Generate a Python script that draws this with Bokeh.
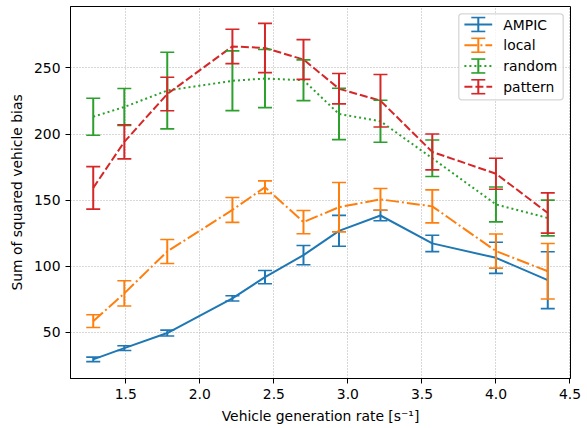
from bokeh.plotting import figure
from bokeh.models import ColumnDataSource, Whisker, TeeHead, Range1d, FixedTicker, BoxAnnotation
from bokeh.core.properties import value
from bokeh.embed import file_html
from bokeh.resources import INLINE

# ---------------- data ----------------
rate = [1.28, 1.49, 1.78, 2.22, 2.44, 2.70, 2.94, 3.22, 3.57, 4.00, 4.35]

ampic = [29.6, 38.1, 49.5, 75.7, 91.8, 108.4, 126.8, 138.4, 117.3, 106.4, 89.5]
ampic_err = [1.7, 1.8, 2.2, 2.0, 5.0, 7.3, 11.7, 4.0, 6.2, 11.8, 21.5]

local = [58.5, 79.5, 111.2, 142.6, 159.8, 133.4, 144.7, 150.6, 145.3, 111.5, 96.2]
local_err = [4.8, 9.6, 9.1, 9.4, 4.8, 8.8, 18.7, 8.2, 12.5, 12.9, 21.0]

random_ = [213.1, 220.5, 232.9, 240.3, 242.0, 240.7, 215.2, 209.7, 181.7, 146.8, 136.5]
random_err = [14.0, 14.0, 29.0, 22.6, 22.0, 15.4, 19.4, 15.9, 13.8, 13.2, 13.5]

pattern = [159.3, 194.1, 230.3, 266.3, 265.1, 256.4, 234.3, 225.2, 186.5, 170.0, 140.3]
pattern_err = [16.1, 12.9, 12.7, 13.0, 18.6, 15.0, 11.5, 19.8, 13.6, 11.7, 15.2]

series_names = ["AMPIC", "local", "random", "pattern"]
x_ticks = [1.5, 2.0, 2.5, 3.0, 3.5, 4.0, 4.5]
x_tick_labels = ["1.5", "2.0", "2.5", "3.0", "3.5", "4.0", "4.5"]
y_ticks = [50, 100, 150, 200, 250]
y_tick_labels = ["50", "100", "150", "200", "250"]

# ---------------- styles ----------------
colors = ["#1f77b4", "#ff7f0e", "#2ca02c", "#d62728"]
dashes = ["solid", "13 3 2 3", "2 3", "8 3"]
FONT = "DejaVu Sans"
FS = "13.9px"

series = [(ampic, ampic_err), (local, local_err), (random_, random_err), (pattern, pattern_err)]

# autoscale like matplotlib (5% margins)
xmin, xmax = min(rate), max(rate)
lo = min(v - e for vals, errs in series for v, e in zip(vals, errs))
hi = max(v + e for vals, errs in series for v, e in zip(vals, errs))
xpad = 0.05 * (xmax - xmin)
ypad = 0.05 * (hi - lo)

FW, FH = 500, 372

p = figure(frame_width=FW, frame_height=FH,
           min_border_left=70, min_border_right=17, min_border_top=6, min_border_bottom=5,
           x_range=Range1d(xmin - xpad, xmax + xpad),
           y_range=Range1d(lo - ypad, hi + ypad),
           output_backend="svg", toolbar_location=None)

p.background_fill_color = "white"
p.border_fill_color = "white"
p.outline_line_color = "black"
p.outline_line_width = 1
p.outline_line_alpha = 1

p.xaxis.ticker = FixedTicker(ticks=x_ticks)
p.yaxis.ticker = FixedTicker(ticks=y_ticks)
p.xaxis.major_label_overrides = {t: s for t, s in zip(x_ticks, x_tick_labels)}
p.yaxis.major_label_overrides = {t: s for t, s in zip(y_ticks, y_tick_labels)}
for ax in (p.xaxis, p.yaxis):
    ax.axis_line_color = "black"
    ax.axis_line_width = 1
    ax.major_tick_line_color = "black"
    ax.major_tick_line_width = 1
    ax.major_tick_out = 5
    ax.major_tick_in = 0
    ax.minor_tick_line_color = None
    ax.major_label_text_font = FONT
    ax.major_label_text_font_size = FS
    ax.major_label_text_color = "black"
    ax.major_label_standoff = 5
    ax.axis_label_text_font = FONT
    ax.axis_label_text_font_size = FS
    ax.axis_label_text_font_style = "normal"
    ax.axis_label_text_color = "black"
p.xaxis.axis_label = "Vehicle generation rate [s\u207b\u00b9]"
p.yaxis.axis_label = "Sum of squared vehicle bias"
p.xaxis.axis_label_standoff = 6
p.yaxis.axis_label_standoff = 6

p.grid.grid_line_color = "#b0b0b0"
p.grid.grid_line_width = 1
p.grid.grid_line_dash = "1 2"

# ---------------- series ----------------
for (vals, errs), c, d in zip(series, colors, dashes):
    src = ColumnDataSource(dict(
        x=rate, y=vals,
        upper=[v + e for v, e in zip(vals, errs)],
        lower=[v - e for v, e in zip(vals, errs)],
    ))
    p.line("x", "y", source=src, line_color=c, line_width=2, line_dash=d)
    w = Whisker(base="x", upper="upper", lower="lower", source=src, dimension="height",
                line_color=c, line_width=2, level="glyph",
                upper_head=TeeHead(size=14, line_color=c, line_width=1.6),
                lower_head=TeeHead(size=14, line_color=c, line_width=1.6))
    p.add_layout(w)

# ---------------- legend (matplotlib-style, in frame pixel units) ----------------
p.extra_x_ranges = {"px": Range1d(0, FW)}
p.extra_y_ranges = {"px": Range1d(0, FH)}

LEG_W, LEG_H = 104.4, 86.0
leg_right = FW - 7.3
leg_top = FH - 7.3
leg_left = leg_right - LEG_W
leg_bottom = leg_top - LEG_H
pad, hlen, tpad = 5.6, 27.8, 11.1
row0, rstep = 10.7, 20.75
half_bar, half_cap = 6.95, 7.0

box = BoxAnnotation(left=leg_left, right=leg_right, bottom=leg_bottom, top=leg_top,
                    x_range_name="px", y_range_name="px",
                    fill_color="white", fill_alpha=0.8,
                    line_color="#cccccc", line_alpha=0.8, line_width=1.3,
                    border_radius=3, level="annotation")
p.add_layout(box)

hx0 = leg_left + pad
hx1 = hx0 + hlen
hxc = (hx0 + hx1) / 2
tx = hx1 + tpad
for i, (name, c, d) in enumerate(zip(series_names, colors, dashes)):
    yc = leg_top - row0 - i * rstep
    p.segment(x0=[hx0], y0=[yc], x1=[hx1], y1=[yc], line_color=c, line_width=2, line_dash=d,
              x_range_name="px", y_range_name="px", level="overlay")
    p.segment(x0=[hxc, hxc - half_cap, hxc - half_cap],
              y0=[yc - half_bar, yc + half_bar, yc - half_bar],
              x1=[hxc, hxc + half_cap, hxc + half_cap],
              y1=[yc + half_bar, yc + half_bar, yc - half_bar],
              line_color=c, line_width=[2, 1.6, 1.6],
              x_range_name="px", y_range_name="px", level="overlay")
    p.text(x=[tx], y=[yc], text=[name], text_font=value(FONT), text_font_size=FS,
           text_color="black", text_baseline="middle", text_align="left",
           x_range_name="px", y_range_name="px", level="overlay")

open("out.html", "w").write(file_html(p, INLINE))
